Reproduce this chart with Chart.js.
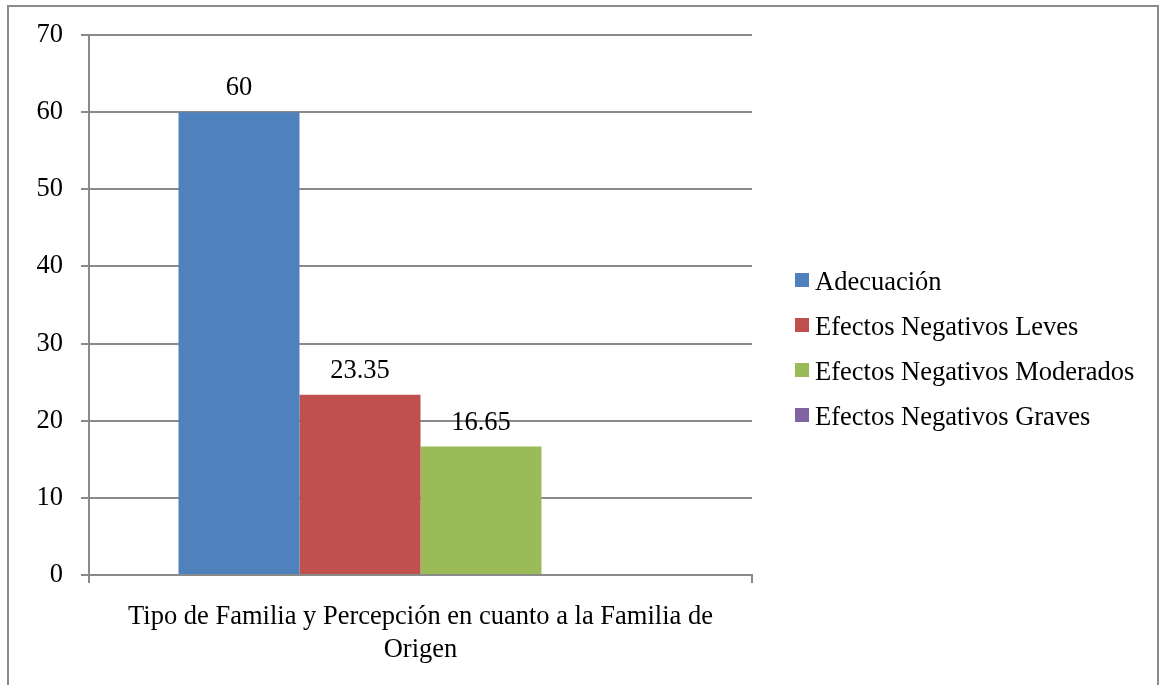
<!DOCTYPE html>
<html>
<head>
<meta charset="utf-8">
<script src="https://cdn.jsdelivr.net/npm/chart.js@4/dist/chart.umd.min.js"></script>
<style>
  html, body { margin: 0; padding: 0; background: #ffffff; }
  #wrap { width: 1162px; height: 685px; position: relative; }
</style>
</head>
<body>
<div id="wrap"><canvas id="c" width="1162" height="685"></canvas></div>
<script>
// Category and series
const categories = [["Tipo de Familia y Percepción en cuanto a la Familia de", "Origen"]];
const seriesNames = ["Adecuación", "Efectos Negativos Leves", "Efectos Negativos Moderados", "Efectos Negativos Graves"];
const adecuacion = [60];
const leves = [23.35];
const moderados = [16.65];
const graves = [null];
const seriesColors = ["#4f81bd", "#c0504d", "#9bbb59", "#8064a2"];
const yTicks = [0, 10, 20, 30, 40, 50, 60, 70];

const FONT = "'Liberation Serif', 'Times New Roman', serif";
const FS = 26.5;
const GRID = "#8a8a8a";

// Outer frame around the whole figure
const framePlugin = {
  id: 'frame',
  beforeDraw(chart) {
    const ctx = chart.ctx;
    ctx.save();
    ctx.fillStyle = '#ffffff';
    ctx.fillRect(0, 0, chart.width, chart.height);
    ctx.strokeStyle = '#8c8c8c';
    ctx.lineWidth = 2;
    ctx.strokeRect(8, 6, 1150, 700);
    ctx.restore();
  }
};

// Value labels above each bar
const valueLabels = {
  id: 'valueLabels',
  afterDatasetsDraw(chart) {
    const ctx = chart.ctx;
    ctx.save();
    ctx.font = FS + 'px ' + FONT;
    ctx.fillStyle = '#000';
    ctx.textAlign = 'center';
    ctx.textBaseline = 'alphabetic';
    chart.data.datasets.forEach((ds, di) => {
      const meta = chart.getDatasetMeta(di);
      meta.data.forEach((bar, i) => {
        const v = ds.data[i];
        if (v === null || v === undefined) return;
        ctx.fillText(String(v), bar.x, bar.y - 17);
      });
    });
    ctx.restore();
  }
};

// Legend on the right, one entry per series
const sideLegend = {
  id: 'sideLegend',
  afterDraw(chart) {
    const ctx = chart.ctx;
    ctx.save();
    ctx.font = FS + 'px ' + FONT;
    ctx.textAlign = 'left';
    ctx.textBaseline = 'alphabetic';
    chart.data.datasets.forEach((ds, i) => {
      const cy = 280 + i * 45;
      ctx.fillStyle = ds.backgroundColor;
      ctx.fillRect(795, cy - 7, 14, 14);
      ctx.fillStyle = '#000';
      ctx.fillText(ds.label, 815, cy + 10);
    });
    ctx.restore();
  }
};

const datasets = [adecuacion, leves, moderados, graves].map((d, i) => ({
  label: seriesNames[i],
  data: d,
  backgroundColor: seriesColors[i],
  borderWidth: 0,
  categoryPercentage: 0.73,
  barPercentage: 1.0
}));

new Chart(document.getElementById('c'), {
  type: 'bar',
  data: { labels: categories, datasets },
  options: {
    responsive: false,
    animation: false,
    devicePixelRatio: 1,
    layout: { padding: { top: 35, right: 410, left: 0, bottom: 0 } },
    plugins: {
      legend: { display: false },
      tooltip: { enabled: false }
    },
    scales: {
      x: {
        offset: true,
        grid: {
          offset: true,
          drawOnChartArea: false,
          drawTicks: true,
          tickLength: 8,
          color: GRID,
          lineWidth: 2
        },
        border: { color: GRID, width: 2 },
        ticks: {
          color: '#000',
          font: { family: FONT, size: FS, lineHeight: 1.26 },
          padding: 17,
          maxRotation: 0,
          autoSkip: false
        },
        afterFit(scale) { scale.height = 110; }
      },
      y: {
        min: 0,
        max: 70,
        afterBuildTicks(scale) { scale.ticks = yTicks.map(v => ({ value: v })); },
        grid: {
          color: GRID,
          lineWidth: 2,
          tickLength: 8
        },
        border: { color: GRID, width: 2 },
        ticks: {
          color: '#000',
          font: { family: FONT, size: FS },
          padding: 18
        },
        afterFit(scale) { scale.width = 89; }
      }
    }
  },
  plugins: [framePlugin, valueLabels, sideLegend]
});
</script>
</body>
</html>
